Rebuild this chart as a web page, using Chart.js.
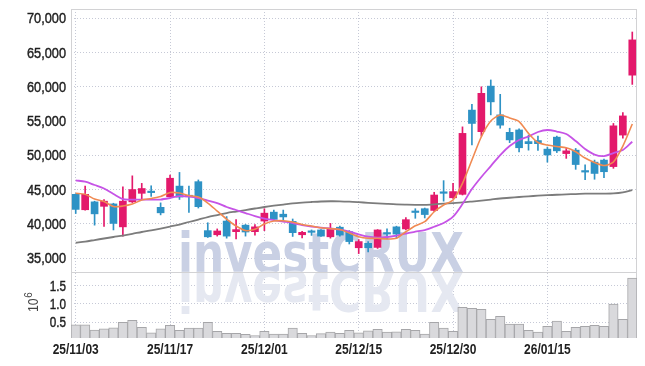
<!DOCTYPE html>
<html>
<head>
<meta charset="utf-8">
<script src="https://cdn.jsdelivr.net/npm/chart.js@4.4.1/dist/chart.umd.min.js"></script>
<style>
html,body{margin:0;padding:0;background:#fff;}
#wrap{width:645px;height:366px;position:relative;}
</style>
</head>
<body>
<div id="wrap"><canvas id="c" width="645" height="366"></canvas></div>
<script>
// ---- data ----
const dates = [
  "25/11/03","25/11/04","25/11/05","25/11/06","25/11/07","25/11/10","25/11/11","25/11/12","25/11/13","25/11/14",
  "25/11/17","25/11/18","25/11/19","25/11/20","25/11/21","25/11/24","25/11/25","25/11/26","25/11/27","25/11/28",
  "25/12/01","25/12/02","25/12/03","25/12/04","25/12/05","25/12/08","25/12/09","25/12/10","25/12/11","25/12/12",
  "25/12/15","25/12/16","25/12/17","25/12/18","25/12/19","25/12/22","25/12/23","25/12/24","25/12/26","25/12/29",
  "25/12/30","26/01/02","26/01/05","26/01/06","26/01/07","26/01/08","26/01/09","26/01/12","26/01/13","26/01/14",
  "26/01/15","26/01/16","26/01/19","26/01/20","26/01/21","26/01/22","26/01/23","26/01/26","26/01/27","26/01/28"
];
const opens = [
  44300,42050,43200,42550,42900,39550,43200,44450,44650,42400,
  43950,45500,44150,46150,39000,38400,40400,38850,39800,38850,
  40400,41700,41400,40350,38400,38800,39100,38100,39500,38850,
  36500,37150,36550,38550,39550,39250,41700,42200,41950,44500,
  43800,44300,56600,53450,60100,55900,53350,53700,52000,52150,
  50900,52650,50250,50750,47650,49000,49300,48350,52950,61700
];
const highs = [
  44400,45500,43300,43550,43000,45400,47000,45900,45550,43050,
  47100,47500,45500,46400,40150,39250,41050,40600,39900,39900,
  42200,42000,42000,40700,38900,39100,39150,40050,39650,39000,
  37700,37400,39150,39250,39650,40900,42200,42300,44600,46300,
  45900,54150,57450,60000,61000,58900,53950,53850,52950,52800,
  51200,52800,51000,51000,48600,49300,49450,54650,56250,68000
];
const lows = [
  41500,42000,39800,39600,39100,38200,43100,43550,44000,41300,
  43900,43550,41650,42300,38000,38200,37900,37800,38200,38350,
  39000,40600,40400,38150,37950,38300,38150,37900,38200,37050,
  35650,35900,36400,37800,37900,39100,40800,40850,41800,43300,
  43700,44200,51500,52800,55900,53950,51850,50500,50750,50700,
  49000,50400,49550,47950,46450,46500,46750,48100,52500,60350
];
const closes = [
  42100,44300,41450,43300,40050,43300,45000,45150,44550,41600,
  46650,43900,43950,42500,38100,38950,38200,39150,38800,39550,
  41550,40650,41000,38700,38750,38750,38200,39350,38350,37400,
  37400,36500,39100,38500,38500,40600,41650,41350,44200,44450,
  44700,53200,54650,59050,57800,54400,52250,51100,51700,51700,
  50050,50650,50650,48650,47550,47350,47600,54300,55750,66850
];
// volume in units of 10^6 shares
const volumes = [
  0.43,0.43,0.29,0.32,0.35,0.50,0.555,0.36,0.21,0.32,
  0.42,0.28,0.34,0.34,0.50,0.25,0.20,0.20,0.17,0.14,
  0.25,0.18,0.18,0.34,0.20,0.14,0.19,0.23,0.20,0.28,
  0.21,0.27,0.31,0.23,0.24,0.31,0.28,0.18,0.50,0.34,
  0.25,0.91,0.88,0.855,0.58,0.66,0.45,0.45,0.28,0.235,
  0.39,0.53,0.25,0.36,0.39,0.42,0.39,1.00,0.58,1.71
];
const maShort = [
  44450,44300,43610,43250,42520,42590,42880,43470,43690,43980,
  44560,44490,44120,43900,43030,41860,40690,39670,39010,39190,
  39960,40400,40450,40250,39890,39670,39420,39280,39160,38650,
  38110,37880,37880,37770,37880,38840,39720,40300,41760,42740,
  43470,45900,49310,52710,55000,55880,55440,54930,53200,51860,
  51500,51280,51100,50520,49600,48940,48500,49020,51350,54570
];
const maMid = [
  46340,46140,45660,45150,44340,43610,43540,43540,43540,43540,
  43760,44050,43980,43760,43390,43030,42450,42010,41570,41130,
  40770,40550,40330,40110,39820,39600,39450,39310,39160,38870,
  38460,38110,37990,38070,38280,38580,38840,39090,39570,40110,
  41030,42880,45070,46830,48430,50040,51350,52230,52740,53400,
  53690,53470,53100,52080,50910,50110,49890,50330,50770,51980
];
const maLong = [
  37230,37410,37630,37850,38070,38280,38530,38800,39040,39310,
  39600,39890,40260,40620,40990,41280,41570,41790,42010,42230,
  42450,42640,42810,42990,43100,43180,43250,43290,43280,43230,
  43150,43060,42990,42910,42840,42800,42770,42770,42840,42940,
  43030,43120,43250,43390,43540,43690,43800,43910,44010,44100,
  44170,44240,44300,44340,44390,44400,44400,44430,44590,44930
];
const priceTicks = [35000,40000,45000,50000,55000,60000,65000,70000];
const volumeTicks = [0.5,1.0,1.5];
const labelEvery = 10;

// ---- styling ----
const UP = '#e3196b', DOWN = '#2e92c5';
const FONT = "'Liberation Sans','Arial',sans-serif";
const GRID = '#c6c9d6';
const candleColors = opens.map((o,i)=> closes[i] >= o ? UP : DOWN);

// draw text horizontally condensed (the reference uses a narrow face)
function narrowText(ctx, text, x, y, squeeze, embolden){
  const w = ctx.measureText(text).width * squeeze;
  ctx.fillText(text, x, y, w);
  if (embolden) { ctx.strokeText(text, x, y, w); }
}

const panelPlugin = {
  id: 'panels',
  beforeDatasetsDraw(chart){
    const ctx = chart.ctx, ca = chart.chartArea;
    const yb = chart.scales.y.bottom;
    ctx.save();
    ctx.font = "bold 56px 'DejaVu Sans'";
    ctx.textBaseline = 'alphabetic';
    ctx.fillStyle = '#c9d0e4';
    ctx.fillText('investCRUX', 178, yb, 286);
    ctx.translate(0, 2*yb);
    ctx.scale(1,-1);
    ctx.fillStyle = '#e5e8f1';
    ctx.fillText('investCRUX', 178, yb, 286);
    ctx.restore();
    ctx.save();
    ctx.strokeStyle = '#d2d2d4';
    ctx.lineWidth = 1;
    ctx.strokeRect(Math.round(ca.left)+0.5, Math.round(ca.top)+0.5, Math.round(ca.right-ca.left)-1, Math.round(ca.bottom-ca.top)-1);
    ctx.beginPath();
    ctx.moveTo(ca.left, Math.round(yb)+0.5);
    ctx.lineTo(ca.right, Math.round(yb)+0.5);
    ctx.stroke();
    ctx.restore();
  },
  afterDraw(chart){
    const ctx = chart.ctx;
    const {x, y, yv} = chart.scales;
    ctx.save();
    ctx.fillStyle = '#1f1f1f';
    ctx.strokeStyle = '#1f1f1f';
    ctx.lineWidth = 0.45;
    // price tick labels
    ctx.textAlign = 'right';
    ctx.textBaseline = 'middle';
    ctx.font = "15px " + FONT;
    y.ticks.forEach(t => narrowText(ctx, Number(t.value).toLocaleString('en-US'), x.left - 5, y.getPixelForValue(t.value) + 1, 0.85, true));
    yv.ticks.forEach(t => narrowText(ctx, Number(t.value).toFixed(1), x.left - 5, yv.getPixelForValue(t.value) + 1, 0.78, true));
    // date labels
    ctx.textAlign = 'center';
    ctx.font = "bold 15px " + FONT;
    x.ticks.forEach(t => narrowText(ctx, dates[t.value], x.getPixelForValue(t.value), x.top + 12, 0.8, false));
    // 10^6 unit
    ctx.fillStyle = '#444';
    ctx.translate(38, yv.top + 40);
    ctx.rotate(-Math.PI/2);
    ctx.textAlign = 'left';
    ctx.textBaseline = 'alphabetic';
    ctx.font = "15px " + FONT;
    const w = ctx.measureText('10').width * 0.82;
    ctx.fillText('10', 0, 0, w);
    ctx.font = "10px " + FONT;
    ctx.fillText('6', w + 0.5, -6);
    ctx.restore();
  }
};

new Chart(document.getElementById('c'), {
  type: 'bar',
  data: {
    labels: dates,
    datasets: [
      { type:'line', label:'MA short', data: maShort, yAxisID:'y', borderColor:'#f08a52', borderWidth:1.6, pointRadius:0, tension:0.25, order:1 },
      { type:'line', label:'MA mid', data: maMid, yAxisID:'y', borderColor:'#c653e6', borderWidth:1.8, pointRadius:0, tension:0.3, order:2 },
      { type:'line', label:'MA long', data: maLong, yAxisID:'y', borderColor:'#7c7c7c', borderWidth:1.8, pointRadius:0, tension:0.3, order:3 },
      { label:'body', data: opens.map((o,i)=>[o, closes[i]]), yAxisID:'y', backgroundColor: candleColors, borderWidth:0, barThickness:7, minBarLength:1.5, grouped:false, order:4 },
      { label:'wick', data: lows.map((l,i)=>[l, highs[i]]), yAxisID:'y', backgroundColor: candleColors, borderWidth:0, barThickness:1, grouped:false, order:5 },
      { label:'volume', data: volumes, yAxisID:'yv', backgroundColor:'#d9d9dc', borderColor:'#a6a6a9', borderWidth:1, barPercentage:1, categoryPercentage:1, grouped:false, order:6 }
    ]
  },
  options: {
    responsive:false,
    animation:false,
    devicePixelRatio:1,
    layout:{ padding:{ top:9, right:8, left:0, bottom:0 } },
    plugins:{ legend:{display:false}, tooltip:{enabled:false}, title:{display:false} },
    events: [],
    scales: {
      x: {
        type:'category', offset:true,
        grid:{ color:GRID, drawTicks:false, offset:false, lineWidth:1 },
        border:{ display:false, dash:[1,2] },
        ticks:{ display:false, autoSkip:false, maxRotation:0 },
        afterBuildTicks: s => { s.ticks = s.ticks.filter(t => t.value % labelEvery === 0); },
        afterFit: s => { s.height = 28; }
      },
      y: {
        type:'linear', position:'left', stack:'main', stackWeight:263, weight:2,
        min:32960, max:71360,
        grid:{ color:GRID, drawTicks:false },
        border:{ display:false, dash:[1,2] },
        ticks:{ display:false, autoSkip:false },
        afterBuildTicks: s => { s.ticks = priceTicks.map(v => ({value:v})); },
        afterFit: s => { s.width = 71; }
      },
      yv: {
        type:'linear', position:'left', stack:'main', stackWeight:66, weight:1,
        min:0.071, max:1.874,
        grid:{ color:GRID, drawTicks:false },
        border:{ display:false, dash:[1,2] },
        ticks:{ display:false, autoSkip:false },
        afterBuildTicks: s => { s.ticks = volumeTicks.map(v => ({value:v})); },
        afterFit: s => { s.width = 71; }
      }
    }
  },
  plugins:[panelPlugin]
});
</script>
</body>
</html>
